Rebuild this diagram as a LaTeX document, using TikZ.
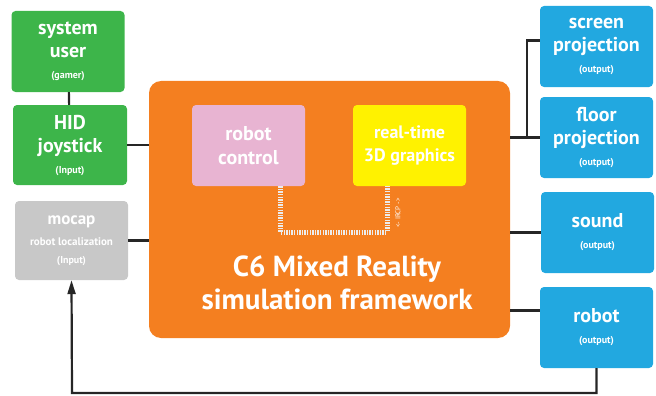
\documentclass[tikz,border=0pt]{standalone}
\usepackage{fontspec}
\setmainfont{PT Sans}
\usetikzlibrary{arrows.meta}

\definecolor{boxgreen}{HTML}{3DB54A}
\definecolor{boxgray}{HTML}{C8C8C8}
\definecolor{boxorange}{HTML}{F47F20}
\definecolor{boxpink}{HTML}{E8B4D2}
\definecolor{boxyellow}{HTML}{FFF200}
\definecolor{boxblue}{HTML}{22A8E0}

\newcommand{\boxnote}[1]{{\fontsize{10}{11}\selectfont #1}}

\tikzset{
  box/.style={rounded corners=4pt, text=white, align=center, inner sep=0pt,
    font=\bfseries\fontsize{20}{23}\selectfont,
    minimum width=113pt, minimum height=81pt},
  greenbox/.style={box, fill=boxgreen},
  graybox/.style={box, fill=boxgray},
  bluebox/.style={box, fill=boxblue},
  link/.style={line width=2.2pt, black!85},
  ladder/.style={line width=5pt, white!85!gray, dash pattern=on 1.4pt off 1.2pt}
}

\begin{document}
\begin{tikzpicture}[x=1pt,y=-1pt]
\useasboundingbox (0,0) rectangle (656,396);

% inputs
\node[greenbox] (user) at (68,51.5) {system\\user\\[-2pt]\boxnote{(gamer)}};
\node[greenbox, minimum width=114pt, minimum height=80pt] (hid) at (70,145) {HID\\joystick\\[-2pt]\boxnote{(Input)}};
\node[graybox, minimum height=79pt] (mocap) at (71.5,240.5)
  {{\fontsize{17}{19}\selectfont mocap}\\[-2pt]{\fontsize{11}{14}\selectfont robot localization}\\[-5pt]\boxnote{(Input)}};

% framework
\node[box, fill=boxorange, minimum width=361pt, minimum height=257pt, rounded corners=12pt] (frame) at (329.5,209.5) {};
\node[box, fill=boxpink, font=\bfseries\fontsize{20}{24}\selectfont] (control) at (248.5,145.5) {robot\\control};
\node[box, fill=boxyellow, font=\bfseries\fontsize{18}{23}\selectfont] (graphics) at (409.5,145.5) {real-time\\3D graphics};
\node[text=white, align=center, font=\bfseries\fontsize{29}{33}\selectfont] (title) at (337,283) {C6 Mixed Reality\\simulation framework};

\coordinate (bend1) at (280,232);
\coordinate (bend2) at (387,232);
\draw[ladder] (control.south -| bend1) -- (bend1) -- (bend2) -- (graphics.south -| bend2);
\node[text=white, rotate=90, font=\fontsize{7}{8}\selectfont] (ircp) at (398,213) {<- IRCP ->};

% outputs
\node[bluebox] (screen) at (596.5,46.5) {screen\\projection\\[-2pt]\boxnote{(output)}};
\node[bluebox] (floor) at (596.5,137.5) {floor\\projection\\[-2pt]\boxnote{(output)}};
\node[bluebox] (sound) at (597.5,232.5) {sound\\[-2pt]\boxnote{(output)}};
\node[bluebox] (robot) at (596.5,327.5) {robot\\[-2pt]\boxnote{(output)}};

% connectors
\draw[link] (user) -- (hid);
\draw[link] (hid.east) -- (hid.east -| frame.west);
\draw[link] (mocap.east) -- (mocap.east -| frame.west);
\coordinate (tee) at (527,137.5);
\draw[link] ([yshift=6pt]screen.west) -| (tee);
\draw[link] (floor.west -| frame.east) -- (floor.west);
\draw[link] (sound.west -| frame.east) -- (sound.west);
\draw[link] ([yshift=17pt]robot.west -| frame.east) -- ([yshift=17pt]robot.west);
\coordinate (loop) at (72,393);
\draw[link, -{Triangle[length=14pt, width=8pt]}] (robot.south) |- (loop) -- (mocap.south);
\end{tikzpicture}
\end{document}
